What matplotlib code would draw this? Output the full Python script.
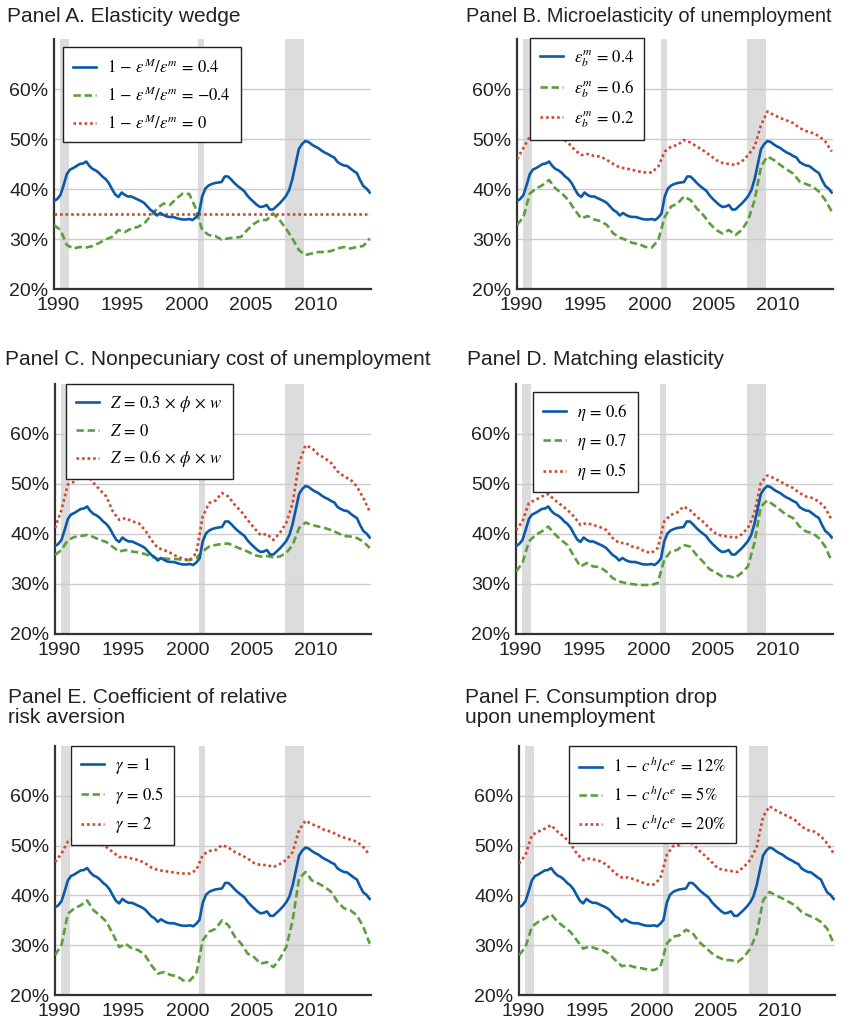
import numpy as np
import matplotlib
matplotlib.use("Agg")
import matplotlib.pyplot as plt

plt.rcParams["font.family"] = ["Liberation Sans", "DejaVu Sans"]
plt.rcParams["mathtext.fontset"] = "stix"

# quarterly grid for the baseline series, half-year grid for the alternatives
QUARTERS = np.arange(1990.0, 2014.51, 0.25)
HALVES = np.arange(1990.0, 2014.51, 0.5)

BASELINE = [
    37.6, 38.0, 38.8, 40.8, 43.0, 43.9, 44.2, 44.6, 45.0, 45.1, 45.5, 44.6,
    44.0, 43.7, 43.2, 42.5, 42.0, 41.2, 40.0, 38.9, 38.4, 39.3, 38.8, 38.5,
    38.5, 38.2, 37.9, 37.6, 37.2, 36.5, 35.8, 35.4, 34.7, 35.2, 34.8, 34.5,
    34.4, 34.4, 34.2, 34.0, 33.9, 33.9, 34.0, 33.8, 34.3, 35.1, 38.5, 40.1,
    40.7, 41.0, 41.2, 41.3, 41.4, 42.5, 42.5, 41.9, 41.2, 40.6, 40.1, 39.6,
    38.7, 38.0, 37.4, 36.8, 36.4, 36.5, 36.8, 35.9, 35.9, 36.5, 37.1, 37.8,
    38.6, 39.8, 42.0, 45.0, 48.0, 49.0, 49.6, 49.4, 48.9, 48.5, 48.2, 47.7,
    47.3, 47.0, 46.6, 46.3, 45.4, 45.0, 44.7, 44.6, 44.1, 43.6, 43.2, 41.8,
    40.6, 40.1, 39.3,
]

# Panel A
A_GREEN = [
    32.8, 31.8, 28.8, 28.1, 28.4, 28.3, 28.6, 29.2, 29.9, 30.4,
    31.8, 31.4, 32.1, 32.4, 33.1, 34.6, 36.1, 37.1, 36.8, 38.1,
    39.1, 39.0, 36.1, 31.8, 30.8, 30.6, 29.9, 30.1, 30.3, 30.4,
    31.8, 33.0, 33.8, 33.8, 35.1, 33.8, 32.1, 30.1, 27.8, 26.8,
    27.1, 27.4, 27.4, 27.6, 28.1, 28.4, 28.1, 28.4, 28.6, 30.1,
]
A_RED = [35.0] * len(HALVES)

# Panel B
B_GREEN = [
    32.8, 34.4, 39.1, 40.1, 40.8, 41.8, 40.1, 39.1, 37.8, 35.8,
    34.1, 34.6, 33.9, 33.6, 32.8, 31.1, 30.3, 29.8, 29.2, 29.0,
    28.4, 28.3, 29.8, 34.4, 36.5, 37.1, 38.5, 37.8, 36.1, 34.8,
    33.1, 31.8, 31.1, 31.8, 30.8, 31.8, 33.8, 37.8, 44.5, 46.5,
    45.8, 44.8, 43.9, 43.1, 41.5, 41.0, 40.5, 39.5, 37.8, 35.5,
]
B_RED = [
    46.0, 48.2, 50.5, 51.2, 51.7, 52.2, 51.2, 50.2, 49.2, 47.8,
    46.8, 47.0, 46.6, 46.5, 45.8, 45.0, 44.3, 44.1, 43.8, 43.5,
    43.3, 43.3, 44.5, 47.5, 48.5, 48.8, 49.8, 49.3, 48.5, 47.7,
    46.8, 45.8, 45.2, 45.0, 44.8, 45.5, 46.8, 48.5, 52.8, 55.5,
    54.8, 54.2, 53.7, 53.2, 52.2, 51.6, 51.2, 50.6, 49.5, 47.5,
]

# Panel C
C_GREEN = [
    35.8, 36.8, 38.8, 39.4, 39.6, 39.8, 39.4, 38.8, 38.4, 37.4,
    36.5, 36.8, 36.5, 36.3, 36.0, 35.5, 35.0, 35.1, 35.0, 35.0,
    34.8, 34.8, 35.2, 36.5, 37.5, 37.8, 38.0, 38.1, 37.5, 37.0,
    36.5, 35.8, 35.5, 35.6, 35.3, 35.5, 36.2, 37.8, 41.2, 42.3,
    41.8, 41.5, 41.2, 40.8, 40.2, 39.6, 39.5, 39.2, 38.5, 37.2,
]
C_RED = [
    41.2, 44.8, 49.9, 50.5, 51.5, 51.9, 50.2, 48.8, 47.5, 44.5,
    42.8, 43.2, 42.5, 42.2, 40.8, 38.8, 37.2, 36.8, 36.2, 35.5,
    35.0, 34.8, 36.2, 43.5, 46.2, 46.7, 48.2, 47.5, 45.8, 44.5,
    42.8, 41.2, 39.8, 40.0, 38.8, 40.2, 42.2, 46.2, 54.2, 57.7,
    57.2, 55.9, 55.2, 54.2, 52.5, 51.5, 50.9, 49.5, 47.2, 44.5,
]

# Panel D
D_GREEN = [
    32.5, 34.2, 38.5, 39.8, 40.5, 41.5, 40.0, 38.8, 37.8, 35.5,
    33.5, 34.2, 33.5, 33.4, 32.5, 31.2, 30.5, 30.2, 30.0, 29.8,
    29.8, 29.8, 30.2, 34.8, 36.5, 36.8, 37.8, 37.5, 35.8, 34.5,
    33.0, 32.3, 31.5, 31.6, 31.2, 32.2, 33.5, 38.2, 45.5, 46.7,
    45.8, 44.8, 43.8, 43.2, 41.5, 40.5, 40.2, 39.2, 37.5, 34.5,
]
D_RED = [
    40.8, 42.5, 46.2, 46.8, 47.5, 48.0, 46.8, 45.8, 44.8, 43.5,
    41.8, 42.2, 41.8, 41.4, 40.8, 39.2, 38.2, 38.2, 37.5, 37.2,
    36.5, 36.2, 37.2, 42.5, 43.8, 44.3, 45.5, 44.8, 43.5, 42.5,
    41.2, 40.1, 39.6, 39.5, 39.2, 39.9, 41.2, 44.2, 50.2, 51.7,
    51.2, 50.5, 49.8, 49.2, 48.2, 47.5, 47.2, 46.5, 45.2, 42.8,
]

# Panel E
E_GREEN = [
    28.0, 30.0, 36.3, 37.4, 38.0, 39.0, 37.0, 36.0, 34.7, 32.3,
    29.6, 30.3, 29.3, 29.0, 28.0, 26.0, 24.3, 24.6, 24.0, 23.8,
    22.9, 22.9, 24.3, 31.0, 32.7, 33.3, 35.0, 34.0, 31.7, 30.3,
    28.3, 27.6, 26.3, 26.6, 25.6, 27.3, 29.6, 35.0, 43.4, 44.7,
    43.0, 42.4, 41.7, 40.7, 38.7, 37.4, 37.0, 36.0, 33.7, 30.3,
]
E_RED = [
    46.7, 48.4, 50.8, 51.4, 51.8, 52.1, 51.2, 50.3, 49.7, 48.7,
    47.7, 47.7, 47.4, 47.1, 46.5, 45.6, 45.1, 44.9, 44.7, 44.5,
    44.4, 44.4, 45.1, 48.1, 48.9, 49.1, 50.1, 49.6, 48.7, 48.1,
    47.4, 46.5, 46.1, 46.1, 45.7, 46.3, 47.1, 48.7, 53.1, 55.0,
    54.3, 53.8, 53.1, 52.8, 52.1, 51.6, 51.2, 50.8, 49.7, 48.1,
]

# Panel F
F_GREEN = [
    28.0, 29.6, 33.7, 34.7, 35.3, 36.2, 34.7, 33.7, 32.7, 31.0,
    29.3, 29.8, 29.3, 29.0, 28.3, 27.0, 25.8, 26.0, 25.6, 25.4,
    25.1, 25.0, 25.6, 30.3, 31.7, 32.0, 33.1, 32.5, 30.7, 29.6,
    28.4, 27.6, 27.0, 27.0, 26.6, 27.6, 29.3, 32.3, 39.0, 40.7,
    40.0, 39.4, 38.7, 38.0, 36.7, 36.0, 35.5, 34.7, 33.3, 30.3,
]
F_RED = [
    46.4, 48.1, 52.1, 52.8, 53.4, 54.1, 52.8, 51.8, 50.4, 48.4,
    47.1, 47.4, 47.1, 46.7, 45.7, 44.4, 43.6, 43.6, 43.2, 42.7,
    42.2, 42.2, 43.4, 48.1, 49.9, 50.1, 51.2, 50.4, 49.1, 47.9,
    46.7, 45.4, 45.1, 44.9, 44.7, 45.7, 47.1, 49.7, 55.8, 57.9,
    57.1, 56.4, 55.8, 55.1, 53.8, 53.1, 52.8, 51.9, 50.4, 48.4,
]

RECESSIONS = [(1990.5, 1991.2), (2001.2, 2001.67), (2007.9, 2009.4)]
YEAR_TICKS = [1990, 1995, 2000, 2005, 2010]
PCT_TICKS = [20, 30, 40, 50, 60]

TITLES = [
    "Panel A. Elasticity wedge",
    "Panel B. Microelasticity of unemployment",
    "Panel C. Nonpecuniary cost of unemployment",
    "Panel D. Matching elasticity",
    "Panel E. Coefficient of relative\nrisk aversion",
    "Panel F. Consumption drop\nupon unemployment",
]
LABELS = [
    [r"$1\,-\,\epsilon^M/\epsilon^m\,=\,0.4$", r"$1\,-\,\epsilon^M/\epsilon^m\,=\,{-}0.4$",
     r"$1\,-\,\epsilon^M/\epsilon^m\,=\,0$"],
    [r"$\epsilon_b^m\,=\,0.4$", r"$\epsilon_b^m\,=\,0.6$", r"$\epsilon_b^m\,=\,0.2$"],
    [r"$Z\,=\,0.3\,\times\,\phi\,\times\,w$", r"$Z\,=\,0$", r"$Z\,=\,0.6\,\times\,\phi\,\times\,w$"],
    [r"$\eta\,=\,0.6$", r"$\eta\,=\,0.7$", r"$\eta\,=\,0.5$"],
    [r"$\gamma\,=\,1$", r"$\gamma\,=\,0.5$", r"$\gamma\,=\,2$"],
    [r"$1\,-\,c^h/c^e\,=\,12\%$", r"$1\,-\,c^h/c^e\,=\,5\%$", r"$1\,-\,c^h/c^e\,=\,20\%$"],
]
GREENS = [A_GREEN, B_GREEN, C_GREEN, D_GREEN, E_GREEN, F_GREEN]
REDS = [A_RED, B_RED, C_RED, D_RED, E_RED, F_RED]

BLUE = "#0b5aa8"
GREEN = "#5b9f3d"
RED = "#cc4a2e"

W, H = 846, 1023
# axes boxes in pixels: left, right, top, bottom
BOXES = [
    (54, 371, 39, 289), (517, 833, 39, 289),
    (55, 371, 384, 634), (516, 833, 384, 634),
    (55, 371, 746, 995), (519, 835, 746, 995),
]
# title anchors (x, y, vertical alignment, size)
TITLE_POS = [
    (7, 22, "baseline", 15.0), (466, 22, "baseline", 14.4),
    (5, 365, "baseline", 15.0), (467, 365, "baseline", 15.0),
    (8, 688, "top", 15.0), (465, 688, "top", 15.0),
]
# legend frame top-left in pixels
LEGEND_POS = [(63, 47), (530, 38), (66, 384), (533, 392), (71, 746), (569, 746)]


def main():
    fig = plt.figure(figsize=(W / 100, H / 100), dpi=100)

    for i, (l, r, t, b) in enumerate(BOXES):
        ax = fig.add_axes([l / W, 1 - b / H, (r - l) / W, (b - t) / H])

        for x0, x1 in RECESSIONS:
            ax.axvspan(x0, x1, color="#dcdcdc", lw=0, zorder=0)

        ax.plot(QUARTERS, BASELINE, color=BLUE, lw=1.9, label=LABELS[i][0], zorder=4)
        ax.plot(HALVES, GREENS[i], color=GREEN, lw=1.9, ls=(0, (2.8, 1.4)),
                label=LABELS[i][1], zorder=3)
        ax.plot(HALVES, REDS[i], color=RED, lw=1.9, ls=(0, (1.0, 1.1)),
                label=LABELS[i][2], zorder=3)

        ax.set_xlim(1990, 2014.6)
        ax.set_ylim(20, 70)
        ax.set_xticks([y + 0.3 for y in YEAR_TICKS])
        ax.set_xticklabels([str(y) for y in YEAR_TICKS])
        ax.set_yticks(PCT_TICKS)
        ax.set_yticklabels([f"{p}%" for p in PCT_TICKS])
        ax.tick_params(length=0, labelsize=14, colors="#222222")
        ax.tick_params(axis="x", pad=6)
        ax.tick_params(axis="y", pad=4)
        ax.yaxis.grid(True, color="#cccccc", lw=1.0, zorder=1)
        ax.set_axisbelow(True)
        for side in ("top", "right"):
            ax.spines[side].set_visible(False)
        for side in ("left", "bottom"):
            ax.spines[side].set_color("#333333")
            ax.spines[side].set_linewidth(1.6)

        lx, ly = LEGEND_POS[i]
        leg = ax.legend(loc="upper left",
                        bbox_to_anchor=((lx - l) / (r - l), 1 - (ly - t) / (b - t)),
                        borderaxespad=0, fontsize=12, frameon=True, fancybox=False,
                        framealpha=1, edgecolor="#222222", handlelength=1.35,
                        handletextpad=0.7, labelspacing=0.55, borderpad=0.6)
        leg.get_frame().set_linewidth(1.0)
        leg.set_zorder(6)

        tx, ty, va, size = TITLE_POS[i]
        fig.text(tx / W, 1 - ty / H, TITLES[i], fontsize=size, color="#222222",
                 ha="left", va=va, linespacing=1.05)

    fig.savefig("out.png", dpi=100)
    plt.close(fig)


if __name__ == "__main__":
    main()
